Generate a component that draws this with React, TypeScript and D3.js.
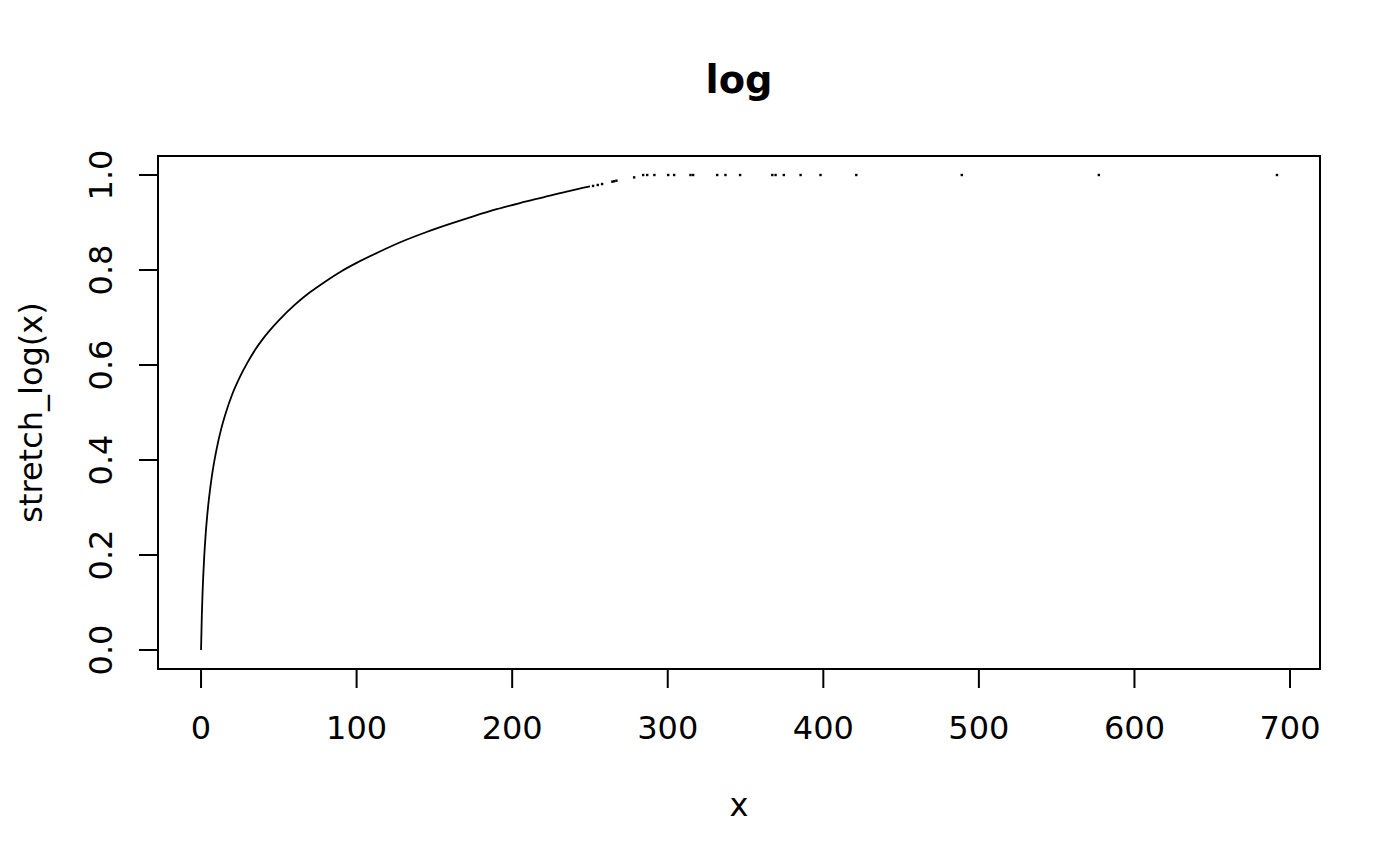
import React, { useEffect, useRef } from "react";
import * as d3 from "d3";

// Dense part of the curve (x, stretch_log(x))
const curveX = [0, 0.5, 1, 2, 3, 4, 5, 7, 10, 13, 16, 20, 25, 30, 35, 40, 50, 60, 70, 80, 90, 100, 115, 130, 145, 160, 175, 190, 205, 220, 235, 250];
const curveY = [0, 0.072, 0.122, 0.194, 0.245, 0.284, 0.316, 0.367, 0.423, 0.466, 0.5, 0.538, 0.575, 0.606, 0.633, 0.656, 0.694, 0.726, 0.753, 0.776, 0.797, 0.815, 0.839, 0.861, 0.88, 0.897, 0.913, 0.928, 0.941, 0.953, 0.965, 0.976];

// Sparse points (upper tail)
const sparseX = [252, 255, 257.8, 264.4, 265.6, 267, 278.4, 284.2, 286.8, 291.4, 300.3, 304.1, 314.6, 316.3, 331.8, 337.1, 346.5, 367.2, 369.3, 374.6, 385.4, 398.2, 421.2, 489, 577.1, 691.6];
const sparseY = [0.977, 0.979, 0.981, 0.986, 0.987, 0.988, 0.995, 1, 1, 1, 1, 1, 1, 1, 1, 1, 1, 1, 1, 1, 1, 1, 1, 1, 1, 1];

const xTicks = [0, 100, 200, 300, 400, 500, 600, 700];
const yTicks = [0, 0.2, 0.4, 0.6, 0.8, 1.0];

const W = 1400;
const H = 866;
const left = 158, right = 1320, top = 156, bottom = 669;

export default function App() {
  const ref = useRef<SVGSVGElement>(null);

  useEffect(() => {
    const svg = d3.select(ref.current);
    svg.selectAll("*").remove();
    const allX = curveX.concat(sparseX);
    const allY = curveY.concat(sparseY);
    const [xmin, xmax] = d3.extent(allX) as [number, number];
    const [ymin, ymax] = d3.extent(allY) as [number, number];
    const xp = (xmax - xmin) * 0.04;
    const yp = (ymax - ymin) * 0.04;
    const x = d3.scaleLinear().domain([xmin - xp, xmax + xp]).range([left, right]);
    const y = d3.scaleLinear().domain([ymin - yp, ymax + yp]).range([bottom, top]);
    const font = "DejaVu Sans, sans-serif";

    // frame
    svg.append("rect")
      .attr("x", left).attr("y", top)
      .attr("width", right - left).attr("height", bottom - top)
      .attr("fill", "none").attr("stroke", "#000").attr("stroke-width", 2);

    // curve
    const pts = curveX.map((v, i) => [v, curveY[i]] as [number, number]);
    svg.append("path")
      .attr("d", d3.line<[number, number]>().x(d => x(d[0])).y(d => y(d[1])).curve(d3.curveMonotoneX)(pts) || "")
      .attr("fill", "none").attr("stroke", "#000").attr("stroke-width", 1.8);

    svg.append("g").selectAll("rect")
      .data(sparseX.map((v, i) => [v, sparseY[i]]))
      .enter().append("rect")
      .attr("x", d => x(d[0]) - 1.2).attr("y", d => y(d[1]) - 1.2)
      .attr("width", 2.4).attr("height", 2.4).attr("fill", "#000");

    // x axis
    const gx = svg.append("g");
    gx.append("line").attr("x1", x(xTicks[0])).attr("x2", x(xTicks[xTicks.length - 1]))
      .attr("y1", bottom).attr("y2", bottom).attr("stroke", "#000").attr("stroke-width", 2);
    xTicks.forEach(t => {
      gx.append("line").attr("x1", x(t)).attr("x2", x(t)).attr("y1", bottom).attr("y2", bottom + 19)
        .attr("stroke", "#000").attr("stroke-width", 2);
      gx.append("text").attr("x", x(t)).attr("y", 739).attr("text-anchor", "middle")
        .attr("font-family", font).attr("font-size", 32).text(String(t));
    });

    // y axis
    const gy = svg.append("g");
    yTicks.forEach(t => {
      gy.append("line").attr("x1", left - 19).attr("x2", left).attr("y1", y(t)).attr("y2", y(t))
        .attr("stroke", "#000").attr("stroke-width", 2);
      gy.append("text").attr("transform", `translate(112,${y(t)}) rotate(-90)`)
        .attr("text-anchor", "middle").attr("font-family", font).attr("font-size", 32)
        .text(t.toFixed(1));
    });

    // labels
    svg.append("text").attr("x", (left + right) / 2).attr("y", 93).attr("text-anchor", "middle")
      .attr("font-family", font).attr("font-size", 38.4).attr("font-weight", "bold").text("log");
    svg.append("text").attr("x", (left + right) / 2).attr("y", 816).attr("text-anchor", "middle")
      .attr("font-family", font).attr("font-size", 32).text("x");
    svg.append("text").attr("transform", `translate(42,${(top + bottom) / 2}) rotate(-90)`)
      .attr("text-anchor", "middle").attr("font-family", font).attr("font-size", 32).text("stretch_log(x)");
  }, []);

  return (
    <div style={{ position: "fixed", left: 0, top: 0, width: W, height: H, background: "#fff" }}>
      <svg ref={ref} width={W} height={H} style={{ display: "block" }} />
    </div>
  );
}
